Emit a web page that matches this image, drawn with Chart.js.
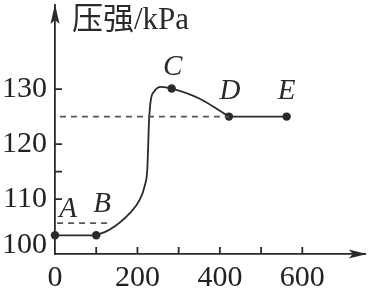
<!DOCTYPE html>
<html>
<head>
<meta charset="utf-8">
<script src="https://cdn.jsdelivr.net/npm/chart.js@4.4.1/dist/chart.umd.min.js"></script>
<style>
html,body{margin:0;padding:0;background:#fff;}
#wrap{width:370px;height:296px;position:relative;}
</style>
</head>
<body>
<div id="wrap"><canvas id="c" width="370" height="296"></canvas></div>
<script>
// ---- data ----
const yTitle = '压强/kPa';
const pointNames = ['A', 'B', 'C', 'D', 'E'];
const pointX = [0, 100, 283, 422, 562];
const pointY = [103.4, 103.4, 130.1, 125, 125];
// smooth curve B -> C -> D
const curveX = [100, 132, 181, 205, 218, 224, 226, 228, 232, 241, 257, 283, 350, 422];
const curveY = [103.4, 104.4, 107.4, 109.8, 112.5, 115.5, 119.5, 124, 127.8, 129.6, 130.4, 130.1, 128.3, 125];
// straight segments
const segABx = [0, 100];
const segABy = [103.4, 103.4];
const segDEx = [422, 562];
const segDEy = [125, 125];
// dashed reference lines
const dash125x = [12, 422];
const dash125y = [125, 125];
const dashAx = [5, 132];
const dashAy = [105.6, 105.6];
// ticks
const xTickValues = [0, 100, 200, 300, 400, 500, 600];
const xTickLabels = ['0', '', '200', '', '400', '', '600'];
const yTickValues = [100, 110, 115, 120, 125, 130];
const yTickLabels = ['100', '110', '', '120', '', '130'];
const yTickMarks = [110, 115, 120, 130];

const zip = (xs, ys) => xs.map((x, i) => ({x: x, y: ys[i]}));
const INK = '#2a2a2a';

const decorPlugin = {
  id: 'decor',
  afterDraw(chart) {
    const ctx = chart.ctx;
    const xs = chart.scales.x, ys = chart.scales.y;
    const x0 = xs.getPixelForValue(0), y0 = ys.getPixelForValue(100);
    const left = chart.chartArea.left, top = chart.chartArea.top, right = chart.chartArea.right;
    ctx.save();
    ctx.fillStyle = INK; ctx.strokeStyle = INK; ctx.lineWidth = 1.8;
    // arrows
    ctx.beginPath();
    ctx.moveTo(left, top - 1); ctx.lineTo(left - 4.5, top + 19); ctx.lineTo(left, top + 15); ctx.lineTo(left + 4.5, top + 19); ctx.closePath(); ctx.fill();
    ctx.beginPath();
    ctx.moveTo(right + 1, y0); ctx.lineTo(right - 17, y0 - 4.5); ctx.lineTo(right - 13, y0); ctx.lineTo(right - 17, y0 + 4.5); ctx.closePath(); ctx.fill();
    // inward tick marks
    ctx.beginPath();
    xTickValues.forEach(v => { if (v === 0) return; const p = xs.getPixelForValue(v); ctx.moveTo(p, y0); ctx.lineTo(p, y0 - 7); });
    yTickMarks.forEach(v => { const p = ys.getPixelForValue(v); ctx.moveTo(x0, p); ctx.lineTo(x0 + 7, p); });
    ctx.stroke();
    // title
    ctx.font = '31px "Liberation Serif", "Noto Sans CJK SC", serif';
    ctx.textAlign = 'left'; ctx.textBaseline = 'middle';
    ctx.fillText(yTitle, left + 17, 21);
    // point labels
    const offs = [[13, -26], [6, -31], [1, -21], [1, -25], [0, -25]];
    ctx.font = 'italic 29px "Liberation Serif", serif';
    ctx.textAlign = 'center';
    pointNames.forEach((n, i) => {
      const px = xs.getPixelForValue(pointX[i]), py = ys.getPixelForValue(pointY[i]);
      ctx.fillText(n, px + offs[i][0], py + offs[i][1]);
    });
    ctx.restore();
  }
};

const lineDs = (data, extra) => Object.assign({
  data: data, showLine: true, borderColor: INK, borderWidth: 1.8,
  pointRadius: 0, fill: false, tension: 0
}, extra || {});

new Chart(document.getElementById('c'), {
  type: 'scatter',
  data: {
    datasets: [
      lineDs(zip(dash125x, dash125y), {borderColor: '#555', borderDash: [6, 5]}),
      lineDs(zip(dashAx, dashAy), {borderColor: '#555', borderDash: [6, 5]}),
      lineDs(zip(segABx, segABy)),
      lineDs(zip(curveX, curveY), {cubicInterpolationMode: 'monotone'}),
      lineDs(zip(segDEx, segDEy)),
      {data: zip(pointX, pointY), showLine: false, pointRadius: 4.2, pointBackgroundColor: INK, pointBorderColor: INK, pointBorderWidth: 0}
    ]
  },
  options: {
    responsive: false, animation: false, clip: false,
    layout: {padding: {top: 5, right: 2, left: 0, bottom: 0}},
    plugins: {legend: {display: false}, tooltip: {enabled: false}},
    scales: {
      x: {
        type: 'linear', min: 0, max: 754,
        afterFit(s) { s.height = 42; s.paddingLeft = 0; s.paddingRight = 0; s.paddingTop = 0; s.paddingBottom = 0; },
        afterBuildTicks(s) { s.ticks = xTickValues.map(v => ({value: v})); },
        grid: {drawOnChartArea: false, drawTicks: false},
        border: {color: INK, width: 1.8},
        ticks: {
          autoSkip: false, maxRotation: 0, padding: 6, color: '#222',
          font: {family: '"Liberation Serif", serif', size: 30},
          callback: (v, i) => xTickLabels[i]
        }
      },
      y: {
        type: 'linear', min: 100, max: 145.3,
        afterFit(s) { s.width = 55; s.paddingLeft = 0; s.paddingRight = 0; s.paddingTop = 0; s.paddingBottom = 0; },
        afterBuildTicks(s) { s.ticks = yTickValues.map(v => ({value: v})); },
        grid: {drawOnChartArea: false, drawTicks: false},
        border: {color: INK, width: 1.8},
        ticks: {
          autoSkip: false, padding: 8, color: '#222',
          font: (c) => ({family: '"Liberation Serif", serif', size: 30, lineHeight: (c.index === 0 ? 0.6 : 1.2)}),
          callback: (v, i) => (i === 0 ? [yTickLabels[i], ''] : yTickLabels[i])
        }
      }
    }
  },
  plugins: [decorPlugin]
});
</script>
</body>
</html>
